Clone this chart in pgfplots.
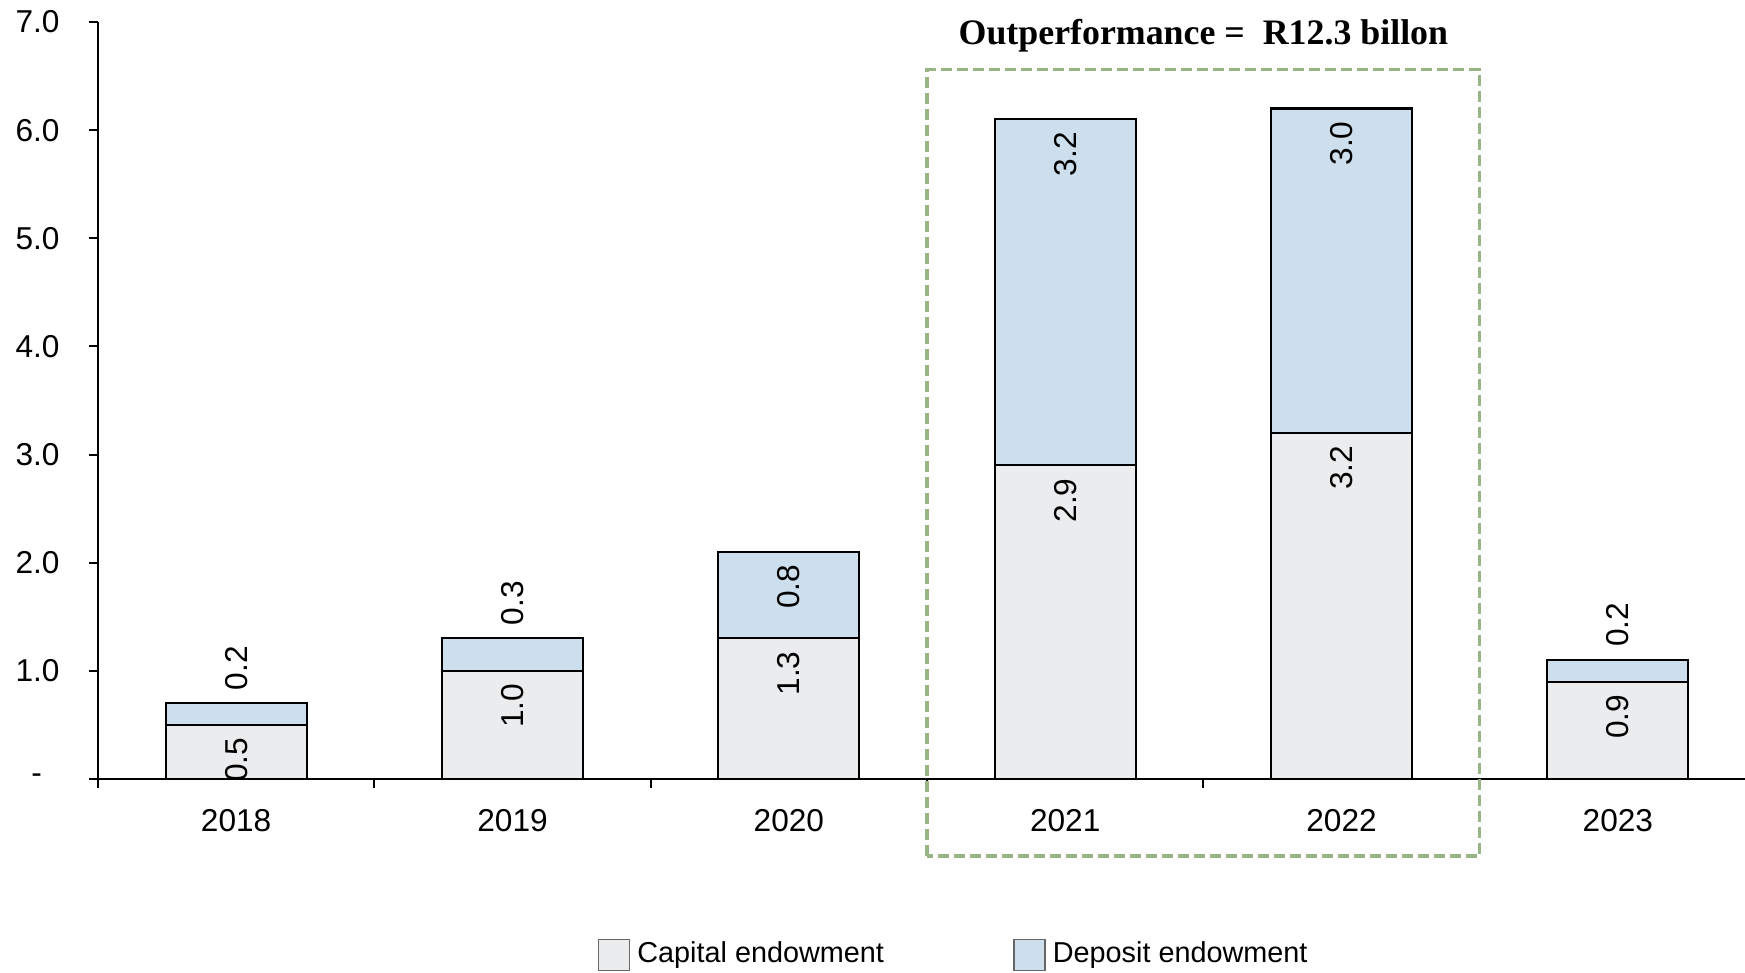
\documentclass[border=0pt]{standalone}
\usepackage{pgfplots}
\pgfplotsset{compat=1.18}
\usepackage{pgfplotstable}
\usepackage{fontspec}
\setmainfont{Liberation Sans}
\newfontfamily\titlefont{Liberation Serif}
\definecolor{capc}{HTML}{EBECEE}
\definecolor{depc}{HTML}{CDDFED}
\definecolor{grn}{HTML}{98B585}

\pgfplotstableread{
x cap dep
0 0.5 0.2
1 1.0 0.3
2 1.3 0.8
3 2.9 3.2
4 3.2 3.0
5 0.9 0.2
}\data

\begin{document}
\begin{tikzpicture}
\path[use as bounding box] (-9.8mm,-19.4mm) rectangle (164.7mm,77.9mm);
\begin{axis}[
  at={(0,0)}, anchor=south west,
  width=164.7mm, height=75.7mm, scale only axis,
  xmin=-0.5, xmax=5.46, ymin=0, ymax=7,
  enlargelimits=false,
  ybar stacked, bar width=14.1mm,
  axis lines=left, axis line style={-, line width=0.6pt},
  clip=false,
  xtick={0,...,5}, xticklabels={2018,2019,2020,2021,2022,2023},
  minor xtick={-0.5,0.5,1.5,2.5,3.5,4.5},
  major x tick style={draw=none},
  minor x tick style={line width=0.6pt, black},
  minor tick length=0.9mm,
  ytick={0,...,7}, yticklabels={{-\hphantom{0}},1.0,2.0,3.0,4.0,5.0,6.0,7.0},
  major tick length=0.9mm, y tick style={line width=0.6pt, black},
  tick align=outside,
  ticklabel style={font=\fontsize{9}{11}\selectfont},
  xticklabel style={yshift=-0.9mm},
  yticklabel style={xshift=-1.7mm},
  /pgf/number format/assume math mode=true,
  nodes near coords={\pgfmathprintnumber[fixed,fixed zerofill,precision=1]{\pgfplotspointmeta}},
  point meta=explicit,
  legend style={at={(0.521,-0.2325)}, anchor=center, draw=none, fill=none, font=\fontsize{8.2}{10}\selectfont, /tikz/every even column/.append style={column sep=12.2mm}},
  legend columns=2,
  legend image code/.code={\draw[#1,draw=black!60,line width=0.5pt] (0mm,-1.55mm) rectangle (3.1mm,1.55mm);},
]
\addplot[fill=capc, draw=black, line width=0.6pt, visualization depends on={rawy \as \ry},
  every node near coord/.style={shift={(axis direction cs:0,\ry/2)}, rotate=90, anchor=east, font=\fontsize{9}{11}\selectfont, inner xsep=1.2mm, inner ysep=0pt}] table[x=x, y=cap, meta=cap]{\data};
\addlegendentry{Capital endowment}
\addplot[fill=depc, draw=black, line width=0.6pt, visualization depends on={rawy \as \ry},
  every node near coord/.style={/utils/exec={\pgfmathparse{\ry<0.5}\ifnum\pgfmathresult=1 \def\myanc{west}\else\def\myanc{east}\fi}, shift={(axis direction cs:0,\ry/2)}, rotate=90, anchor=\myanc, font=\fontsize{9}{11}\selectfont, inner xsep=1.2mm, inner ysep=0pt}] table[x=x, y=dep, meta=dep]{\data};
\addlegendentry{Deposit endowment}
\draw[grn, line width=1pt, dash pattern=on 1.1mm off 0.5mm] (axis cs:2.5,-0.71) rectangle (axis cs:4.5,6.56);
\node[font=\titlefont\bfseries\fontsize{10.2}{12}\selectfont, anchor=base] at (axis cs:3.5,6.795) {Outperformance =\ \ R12.3 billon};
\end{axis}
\end{tikzpicture}
\end{document}
